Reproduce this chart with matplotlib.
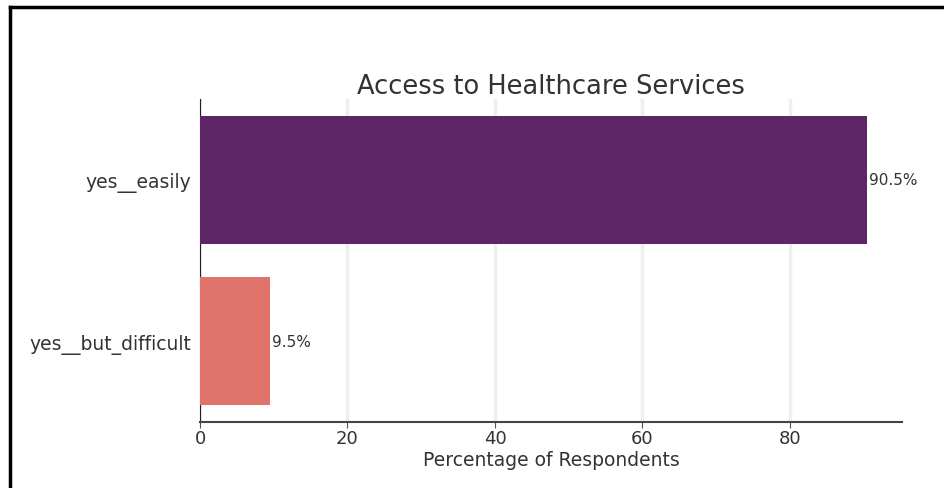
import matplotlib
matplotlib.use("Agg")
import matplotlib.pyplot as plt
from matplotlib.lines import Line2D

categories = ["yes__easily", "yes__but_difficult"]
values = [90.5, 9.5]
bar_colors = ["#5F2667", "#E0746A"]
xticks = [0, 20, 40, 60, 80]
title = "Access to Healthcare Services"
xlabel = "Percentage of Respondents"

W, H = 944, 489
fig = plt.figure(figsize=(W / 100, H / 100), dpi=100)
ax = fig.add_axes([200 / W, 1 - 423 / H, (902 - 200) / W, (423 - 100) / H])

ypos = list(range(len(categories)))
ax.barh(ypos, values, height=0.79, color=bar_colors, zorder=3)
ax.set_ylim(len(categories) - 0.5, -0.5)
ax.set_xlim(0, max(values) * 1.052)
ax.set_yticks(ypos)
ax.set_yticklabels(categories, fontsize=13.5, color="#333333")
ax.set_xticks(xticks)
ax.set_xticklabels([str(t) for t in xticks], fontsize=13, color="#333333")
ax.tick_params(axis="x", length=4, color="#555555", pad=1)
ax.tick_params(axis="y", length=0, pad=6)
ax.grid(axis="x", color="#EFEFEF", linewidth=2.5, zorder=0)
ax.set_axisbelow(True)
for s in ["top", "right"]:
    ax.spines[s].set_visible(False)
ax.spines["left"].set_color("#222222")
ax.spines["bottom"].set_color("#444444")
ax.spines["bottom"].set_linewidth(1.5)

for y, v in zip(ypos, values):
    ax.text(v + 0.2, y, f"{v}%", va="center", ha="left", fontsize=11, color="#333333")

ax.set_title(title, fontsize=18.5, color="#333333", pad=4)
ax.set_xlabel(xlabel, fontsize=13.5, color="#333333", labelpad=2)

# screenshot frame
fig.add_artist(Line2D([9.5 / W, 9.5 / W], [0, 1 - 7.5 / H], transform=fig.transFigure,
                      color="black", linewidth=2.5, solid_capstyle="projecting"))
fig.add_artist(Line2D([9.5 / W, 1], [1 - 7.5 / H, 1 - 7.5 / H], transform=fig.transFigure,
                      color="black", linewidth=2.5, solid_capstyle="projecting"))

fig.savefig("out.png", dpi=100)
